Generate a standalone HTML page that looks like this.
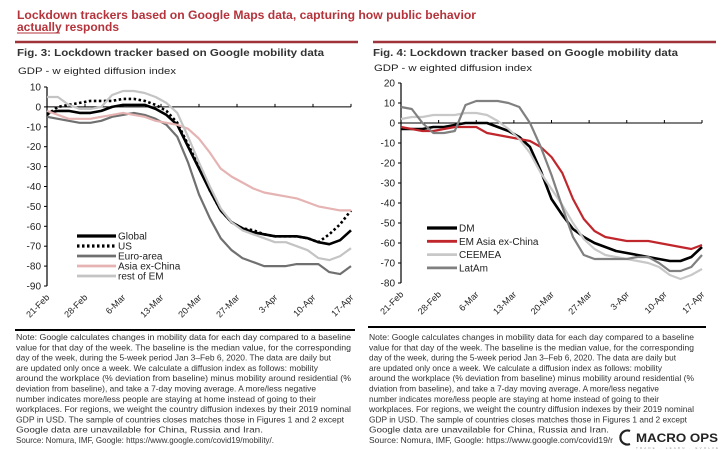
<!DOCTYPE html>
<html><head><meta charset="utf-8"><style>
body{margin:0;background:#fff;}
svg{display:block;font-family:"Liberation Sans",sans-serif;}
</style></head><body>
<svg id="root" width="727" height="450" viewBox="0 0 727 450">
<g fill="#b5333b" font-weight="bold" font-size="11.5">
<text x="17" y="19" textLength="459" lengthAdjust="spacingAndGlyphs">Lockdown trackers based on Google Maps data, capturing how public behavior</text>
<text x="17" y="31" textLength="102" lengthAdjust="spacingAndGlyphs">actually responds</text>
<line x1="17" y1="33" x2="60" y2="33" stroke="#b5333b" stroke-width="1"/>
</g>
<line x1="15" y1="42" x2="358" y2="42" stroke="#a0323a" stroke-width="2.5"/>
<line x1="373" y1="42" x2="716" y2="42" stroke="#a0323a" stroke-width="2.5"/>
<text x="17" y="56" font-size="10.5" font-weight="bold" fill="#333" textLength="307" lengthAdjust="spacingAndGlyphs">Fig. 3: Lockdown tracker based on Google mobility data</text>
<text x="373" y="56" font-size="10.5" font-weight="bold" fill="#333" textLength="305" lengthAdjust="spacingAndGlyphs">Fig. 4: Lockdown tracker based on Google mobility data</text>
<text x="18" y="74" font-size="9.5" fill="#222" textLength="158" lengthAdjust="spacingAndGlyphs">GDP - w eighted diffusion index</text>
<text x="374" y="71" font-size="9.5" fill="#222" textLength="158" lengthAdjust="spacingAndGlyphs">GDP - w eighted diffusion index</text>
<g id="chartL"></g>
<g id="chartR"></g>
<line x1="15" y1="330" x2="355" y2="330" stroke="#000" stroke-width="2"/>
<line x1="368" y1="327" x2="706" y2="327" stroke="#000" stroke-width="2"/>
<g id="notesL" font-size="8.3" fill="#333"></g>
<g id="notesR" font-size="8.3" fill="#333"></g>
<g>
<path d="M630 431 A7 7 0 1 0 630 444" fill="none" stroke="#222" stroke-width="2.2"/>
<text x="636" y="442" font-size="11.5" font-weight="bold" fill="#222" textLength="82" lengthAdjust="spacingAndGlyphs">MACRO OPS</text>
<text x="636" y="449" font-size="3" fill="#999" textLength="82" lengthAdjust="spacing">TRADE · LEARN · EVOLVE</text>
</g>
</svg>
<script>
const days=[0,2,4,6,8,10,12,14,16,18,20,22,24,26,28,30,32,34,36,38,40,42,44,46,48,50,52,54,56];
const tickLabels=["21-Feb","28-Feb","6-Mar","13-Mar","20-Mar","27-Mar","3-Apr","10-Apr","17-Apr"];
const yTicksL=[10,0,-10,-20,-30,-40,-50,-60,-70,-80,-90];
const yTicksR=[20,10,0,-10,-20,-30,-40,-50,-60,-70,-80];
const globalVals=[-3,-2,-2,-3,-3,-2,0,1,1,1,-1,-4,-9,-20,-31,-42,-52,-58,-61,-63,-64,-65,-65,-65,-66,-68,-69,-67,-62];
const usVals=[-4,0,1,2,3,3,3,4,4,3,1,-2,-8,-19,-30,-42,-52,-58,-61,-62,-64,-65,-65,-65,-66,-68,-64,-59,-52];
const euroVals=[-5,-6,-7,-8,-8,-7,-5,-4,-3,-4,-6,-9,-15,-28,-44,-56,-66,-72,-76,-78,-80,-80,-80,-79,-79,-79,-83,-84,-80];
const asiaVals=[-2,-4,-6,-6,-6,-5,-4,-3,-4,-5,-7,-8,-9,-11,-16,-23,-31,-35,-38,-41,-43,-44,-45,-46,-48,-50,-51,-52,-52];
const restEmVals=[5,5,1,-1,-1,0,6,8,8,7,5,2,-3,-15,-28,-40,-51,-58,-62,-64,-66,-68,-68,-70,-72,-76,-77,-75,-71];
const dmVals=[-3,-3,-3,-2,-2,-1,0,0,0,-2,-4,-7,-12,-24,-38,-46,-53,-57,-60,-62,-64,-65,-66,-67,-68,-69,-69,-67,-62];
const emAsiaVals=[-2,-3,-4,-4,-3,-2,-2,-2,-5,-6,-7,-8,-9,-12,-17,-25,-38,-48,-54,-57,-58,-59,-59,-59,-60,-61,-62,-63,-61];
const ceemeaVals=[2,3,3,4,4,4,5,5,4,1,-3,-8,-15,-25,-33,-41,-50,-58,-63,-66,-67,-68,-69,-70,-72,-76,-78,-76,-73];
const latamVals=[8,7,0,-5,-5,-4,9,11,11,11,10,8,0,-12,-26,-42,-57,-66,-68,-68,-68,-68,-67,-67,-70,-74,-74,-72,-66];
const NS="http://www.w3.org/2000/svg";
function mk(tag,attrs,parent){const e=document.createElementNS(NS,tag);for(const k in attrs)e.setAttribute(k,attrs[k]);parent.appendChild(e);return e;}
function chart(g,cfg){
  const x=d=>cfg.x0+(cfg.x1-cfg.x0)*d/56;
  const y=v=>cfg.y0+(cfg.yMax-v)*(cfg.y1-cfg.y0)/(cfg.yMax-cfg.yMin);
  const ax=mk('line',{x1:cfg.x0,y1:y(cfg.yMax),x2:cfg.x0,y2:y(cfg.yMin),stroke:'#000','stroke-width':1.2},g);
  
  
  cfg.yTicks.forEach(t=>{
    mk('line',{x1:cfg.x0-3,y1:y(t),x2:cfg.x0,y2:y(t),stroke:'#000'},g);
    const tx=mk('text',{x:cfg.x0-6,y:y(t)+3.5,'text-anchor':'end','font-size':10,fill:'#222'},g);
    tx.textContent=t;
    
    
  });
  const zl=mk('line',{x1:cfg.x0,y1:y(0),x2:cfg.x1,y2:y(0),stroke:'#000','stroke-width':1},g);
  
  
  tickLabels.forEach((lab,i)=>{
    const xx=x(i*7);
    mk('line',{x1:xx,y1:y(0),x2:xx,y2:y(0)-3,stroke:'#000'},g);
    const ax2=xx+3, ay=cfg.labY;
    const tx=mk('text',{x:ax2,y:ay,'text-anchor':'end','font-size':9,fill:'#222',transform:`rotate(-45 ${ax2} ${ay})`},g);
    tx.textContent=lab;
    
    
  });
  cfg.series.forEach(s=>{
    const d=days.map((dd,i)=>(i?'L':'M')+x(dd).toFixed(1)+' '+y(s.vals[i]).toFixed(1)).join(' ');
    const p=mk('path',{d:d,fill:'none',stroke:s.color,'stroke-width':s.w||2.2,'stroke-linejoin':'round'},g);
    if(s.dash)p.setAttribute('stroke-dasharray',s.dash);
    
    
  });
  cfg.series.forEach((s,i)=>{
    const ly=cfg.legY+i*cfg.legDy;
    const l=mk('line',{x1:cfg.legX,y1:ly,x2:cfg.legX+cfg.legW,y2:ly,stroke:s.color,'stroke-width':(s.w||2.2)+0.6},g);
    if(s.dash)l.setAttribute('stroke-dasharray',s.dash);
    
    
    const t=mk('text',{x:cfg.legX+cfg.legW+2,y:ly+3.5,'font-size':10,fill:'#222'},g);
    t.textContent=s.label;
    
    
  });
}
chart(document.getElementById('chartL'),{x0:47,x1:351,y0:87,y1:286,yMax:10,yMin:-90,yTicks:yTicksL,labY:298,
 legX:77,legW:39,legY:236,legDy:10,
 series:[
  {name:'global',label:'Global',vals:globalVals,color:'#000',w:2.6},
  {name:'us',label:'US',vals:usVals,color:'#000',dash:'2.5 2.5',w:2.6},
  {name:'euro-area',label:'Euro-area',vals:euroVals,color:'#707070'},
  {name:'asia-ex-china',label:'Asia ex-China',vals:asiaVals,color:'#e6b3b3'},
  {name:'rest-of-em',label:'rest of EM',vals:restEmVals,color:'#c4c4c4'}
 ]
});
chart(document.getElementById('chartR'),{x0:401,x1:702,y0:83,y1:283,yMax:20,yMin:-80,yTicks:yTicksR,labY:295,
 legX:427,legW:30,legY:228,legDy:13.3,
 series:[
  {name:'dm',label:'DM',vals:dmVals,color:'#000',w:2.6},
  {name:'em-asia-ex-china',label:'EM Asia ex-China',vals:emAsiaVals,color:'#c0272d'},
  {name:'ceemea',label:'CEEMEA',vals:ceemeaVals,color:'#c8c8c8'},
  {name:'latam',label:'LatAm',vals:latamVals,color:'#808080'}
 ]
});
const noteL=["Note: Google calculates changes in mobility data for each day compared to a baseline","value for that day of the week. The baseline is the median value, for the corresponding","day of the week, during the 5-week period Jan 3–Feb 6, 2020. The data are daily but","are updated only once a week. We calculate a diffusion index as follows: mobility","around the workplace (% deviation from baseline) minus mobility around residential (%","deviation from baseline), and take a 7-day moving average. A more/less negative","number indicates more/less people are staying at home instead of going to their","workplaces. For regions, we weight the country diffusion indexes by their 2019 nominal","GDP in USD. The sample of countries closes matches those in Figures 1 and 2 except","Google data are unavailable for China, Russia and Iran.","Source: Nomura, IMF, Google: https://www.google.com/covid19/mobility/."];
const noteR=noteL.slice();
noteR[5]="dviation from baseline), and take a 7-day moving average. A more/less negative";
noteR[10]="Source: Nomura, IMF, Google: https://www.google.com/covid19/r";
const lenL=[335,335,315,302,335,300,300,335,328,247,258];
const lenR=[325,325,307,293,325,290,290,325,318,240,244];
function notes(id,lines,lens,x0){
  const g=document.getElementById(id);
  lines.forEach((s,i)=>{
    const t=mk('text',{x:x0,y:340+i*10.3,textLength:lens[i],lengthAdjust:'spacingAndGlyphs'},g);
    t.textContent=s;
    
    
  });
}
notes('notesL',noteL,lenL,16);
notes('notesR',noteR,lenR,369);
</script>
</body></html>
